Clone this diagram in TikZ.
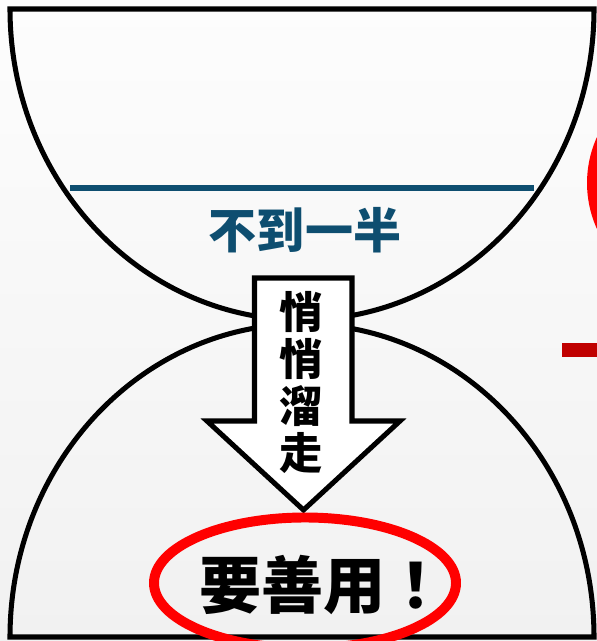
\documentclass[tikz,border=0pt]{standalone}
\usepackage{fontspec}
\usepackage{xcolor}
\usepackage{tikz}
\usetikzlibrary{positioning}
\newfontfamily\cjk{Noto Sans CJK SC}
\definecolor{levelblue}{RGB}{14,78,112}
\definecolor{alertred}{RGB}{255,0,0}
\definecolor{barred}{RGB}{192,0,0}
\definecolor{bgtop}{RGB}{253,253,253}
\definecolor{bgbottom}{RGB}{241,241,241}

\begin{document}
\begin{tikzpicture}[x=0.03cm, y=0.03cm,
      outline/.style={draw=black, line width=4.3pt},
      levelline/.style={draw=levelblue, line width=4.7pt},
      ring/.style={draw=alertred, line width=8.5pt},
      cjktext/.style={inner sep=0pt, align=center}
    ]
      % --- canvas ---
      \useasboundingbox (0,0) rectangle (597,641);
      \shade[top color=bgtop, bottom color=bgbottom] (0,0) rectangle (597,641);
      \clip (0,0) rectangle (597,641);

      % --- upper bowl with its level ---
      \draw[outline] (10,632) -- (594,632) arc[start angle=0, end angle=-180, x radius=292, y radius=311] -- cycle;
      \draw[levelline] (70,453) -- (534,453);
      \node[cjktext, text=levelblue, font=\cjk\bfseries\fontsize{41}{41}\selectfont] (halfmark) at (305,411) {不到一半};

      % --- lower dome ---
      \draw[outline] (10,4) arc[start angle=180, end angle=0, x radius=292, y radius=313] -- cycle;

      % --- arrow through the neck ---
      \draw[outline, fill=white, line join=miter] (254.5,363) -- (352,363) -- (352,220) -- (400,220)
        -- (303.5,131) -- (207,220) -- (254.5,220) -- cycle;
      \node[cjktext, font=\cjk\bfseries\fontsize{37}{40}\selectfont] (slipaway) at (301,258.5) {悄\\悄\\溜\\走};

      % --- red ring at the bottom ---
      \draw[ring] (305,58) ellipse[x radius=151, y radius=65.5];
      \node[cjktext, font=\cjk\bfseries\fontsize{53}{53}\selectfont] (usewell) at (331,56) {要善用\hspace{0.25em}！};

      % --- marks cut off at the right edge ---
      \draw[ring] (698,458) circle[radius=106];
      \fill[barred] (562,284) rectangle (597,298);
    \end{tikzpicture}
\end{document}
